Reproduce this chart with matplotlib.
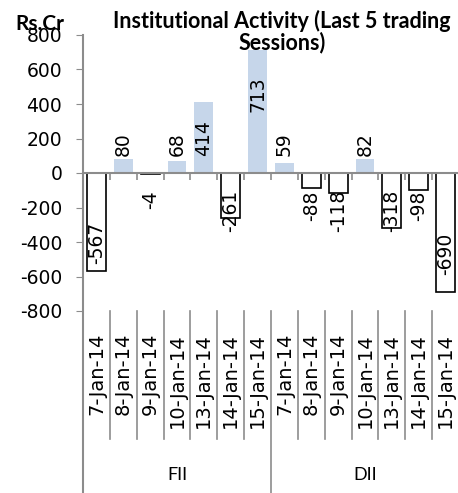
import matplotlib
matplotlib.use("Agg")
import matplotlib.pyplot as plt
import matplotlib.transforms as mtransforms

plt.rcParams["axes.unicode_minus"] = False

dates = ["7-Jan-14", "8-Jan-14", "9-Jan-14", "10-Jan-14", "13-Jan-14", "14-Jan-14", "15-Jan-14"]
groups = ["FII", "DII"]
fii = [-567, 80, -4, 68, 414, -261, 713]
dii = [59, -88, -118, 82, -318, -98, -690]

values = fii + dii
labels = dates + dates
x = list(range(len(values)))

pos_color = "#c6d6ea"
axis_gray = "#8c8c8c"

fig = plt.figure(figsize=(4.58, 4.93), dpi=100)
ax = fig.add_axes([83 / 458, 182 / 493, 376 / 458, 276 / 493])

for xi, v in zip(x, values):
    if v >= 0:
        ax.bar(xi, v, width=0.7, color=pos_color, edgecolor="none", zorder=2)
    else:
        ax.bar(xi, v, width=0.7, color="white", edgecolor="black", linewidth=1.2, zorder=2)

# data labels (near the base, pushed further in for the long bars)
for xi, v in zip(x, values):
    anchor = 0.5 * v if abs(v) > 500 else (100 if v >= 0 else -100)
    ax.text(xi, anchor, str(v), rotation=90, ha="center",
            va="bottom" if v >= 0 else "top", fontsize=13.5,
            family="DejaVu Sans", zorder=3)

ax.set_xlim(-0.5, len(values) - 0.5)
ax.set_ylim(-800, 800)
ax.set_yticks(range(-800, 801, 200))
ax.tick_params(axis="y", length=5, color=axis_gray, pad=10, labelsize=13.5)
for t in ax.get_yticklabels():
    t.set_family("DejaVu Sans")

# category axis at zero
ax.spines["bottom"].set_position(("data", 0))
ax.spines["bottom"].set_color(axis_gray)
ax.spines["bottom"].set_linewidth(1.5)
ax.set_xticks([i - 0.5 for i in range(len(values) + 1)])
ax.set_xticklabels([])
ax.tick_params(axis="x", length=5, color=axis_gray, width=1.2)
ax.spines["top"].set_visible(False)
ax.spines["right"].set_visible(False)
ax.spines["left"].set_visible(False)

trans = mtransforms.blended_transform_factory(ax.transData, ax.transAxes)
bottom_ext = -182 / 276
sep_ext = -(439 - 311) / 276

# left axis line running down through the label area
ax.plot([-0.5, -0.5], [1, bottom_ext], transform=trans, color=axis_gray,
        lw=1.5, clip_on=False, zorder=4)
for i in range(1, len(values) + 1):
    end = bottom_ext if i % len(dates) == 0 else sep_ext
    ax.plot([i - 0.5, i - 0.5], [0, end], transform=trans, color=axis_gray,
            lw=1.2, clip_on=False)

for xi, lab in zip(x, labels):
    ax.text(xi, -22 / 276, lab, rotation=90, ha="center", va="top",
            fontsize=14, family="DejaVu Sans", transform=trans)

for g, name in enumerate(groups):
    center = g * len(dates) + (len(dates) - 1) / 2
    ax.text(center, -164 / 276, name, ha="center", va="center",
            fontsize=13, family="Lato", transform=trans)

fig.text(282 / 458, 1 - 10 / 493, "Institutional Activity (Last 5 trading\nSessions)",
         ha="center", va="top", fontsize=15.5, fontweight="bold", family="Lato",
         linespacing=0.95)
fig.text(15 / 458, 1 - 30 / 493, "Rs.Cr", ha="left", va="baseline",
         fontsize=15, fontweight="bold", family="Lato")

fig.savefig("out.png", dpi=100)
